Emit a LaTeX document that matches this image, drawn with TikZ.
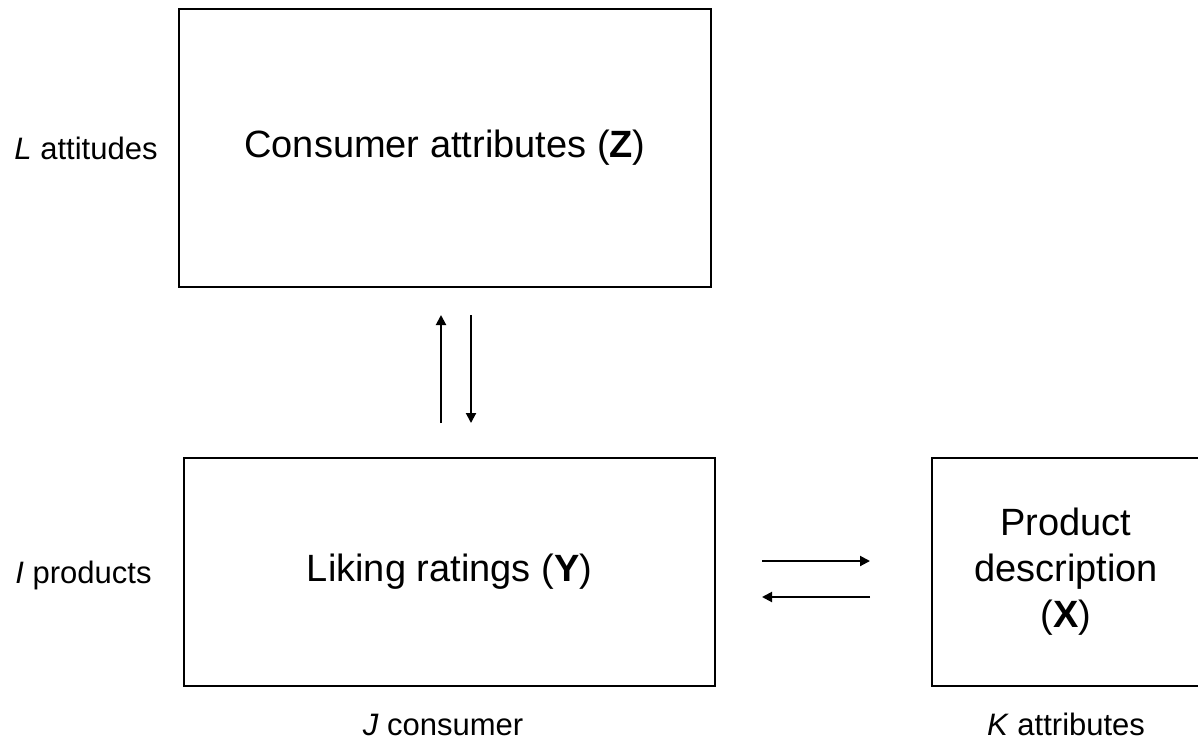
\documentclass[tikz,border=0pt]{standalone}
\usepackage{fontspec}
\setmainfont{Liberation Sans}
\usetikzlibrary{arrows.meta}
\tikzset{
  box/.style={draw=black, line width=2pt, inner sep=0pt, align=center, font=\fontsize{38}{46}\selectfont},
  sidelabel/.style={inner sep=0pt, anchor=base, font=\fontsize{31}{37}\selectfont},
  link/.style={line width=2pt, -{Triangle[length=10pt,width=10pt]}}
}
\begin{document}
\begin{tikzpicture}[x=1pt,y=-1pt]
\useasboundingbox[fill=white] (0,0) rectangle (1198,740);
% boxes
\node[box, minimum width=532pt, minimum height=278pt] (z) at (445,148) {Consumer attributes (\textbf{Z})};
\node[box, minimum width=531pt, minimum height=228pt] (y) at (449.5,572) {Liking ratings (\textbf{Y})};
\node[box, minimum width=268pt, minimum height=228pt] (x) at (1066,572) {Product\\description\\(\textbf{X})};
% side labels
\node[sidelabel] (lz) at (86,159) {\textit{L} attitudes};
\node[sidelabel] (ly) at (83.5,583) {\textit{I} products};
\node[sidelabel] (lj) at (443,735) {\textit{J} consumer};
\node[sidelabel] (lk) at (1066,735) {\textit{K} attributes};
% arrow end points
\coordinate (upA) at (441,423);
\coordinate (upB) at (441,315);
\coordinate (dnA) at (471,315);
\coordinate (dnB) at (471,423);
\coordinate (rtA) at (762,561);
\coordinate (rtB) at (870,561);
\coordinate (ltA) at (870,597);
\coordinate (ltB) at (762,597);
\draw[link] (upA) -- (upB);
\draw[link] (dnA) -- (dnB);
\draw[link] (rtA) -- (rtB);
\draw[link] (ltA) -- (ltB);
\end{tikzpicture}
\end{document}
